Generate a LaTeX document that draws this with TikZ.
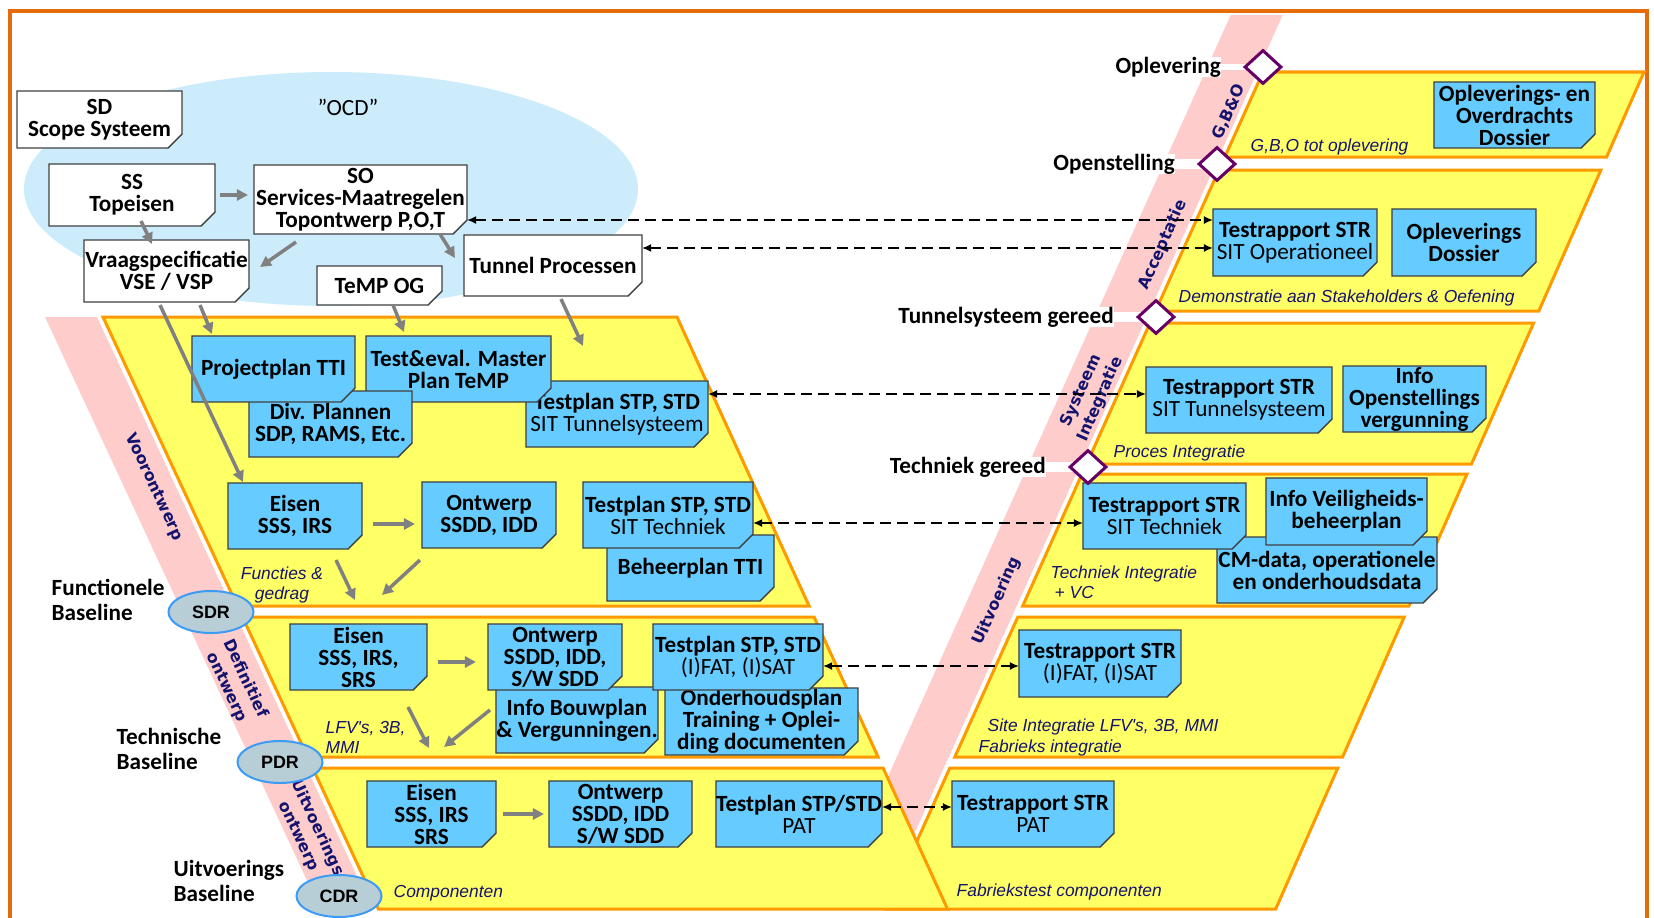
\documentclass[tikz,border=0pt]{standalone}
\usepackage{fontspec}
\setmainfont{Carlito}
\newfontfamily\bandfont{DejaVu Sans}
\newfontfamily\arialfont{Liberation Sans}
\usetikzlibrary{positioning,arrows.meta,shapes.geometric}
\definecolor{frameorange}{RGB}{228,108,10}
\definecolor{ocdblue}{RGB}{204,236,252}
\definecolor{bandpink}{RGB}{255,204,204}
\definecolor{layeryellow}{RGB}{255,255,102}
\definecolor{layerorange}{RGB}{255,153,0}
\definecolor{noteblue}{RGB}{102,204,255}
\definecolor{foldblue}{RGB}{84,168,214}
\definecolor{noteborder}{RGB}{64,64,64}
\definecolor{foldgray}{RGB}{191,191,191}
\definecolor{textnavy}{RGB}{20,20,110}
\definecolor{reviewfill}{RGB}{183,206,214}
\definecolor{reviewblue}{RGB}{61,155,245}
\definecolor{msviolet}{RGB}{102,0,102}
\definecolor{arrowgray}{RGB}{128,128,128}
\newcommand\notesize{\fontsize{6.6pt}{6.25pt}\selectfont}
\makeatletter
\pgfdeclareshape{foldnote}{
  \inheritsavedanchors[from=rectangle]
  \inheritanchorborder[from=rectangle]
  \inheritanchor[from=rectangle]{center}
  \inheritanchor[from=rectangle]{north}
  \inheritanchor[from=rectangle]{south}
  \inheritanchor[from=rectangle]{east}
  \inheritanchor[from=rectangle]{west}
  \inheritanchor[from=rectangle]{north east}
  \inheritanchor[from=rectangle]{north west}
  \inheritanchor[from=rectangle]{south east}
  \inheritanchor[from=rectangle]{south west}
  \backgroundpath{
    \southwest \pgf@xa=\pgf@x \pgf@ya=\pgf@y
    \northeast \pgf@xb=\pgf@x \pgf@yb=\pgf@y
    \pgf@xc=\pgf@xb \advance\pgf@xc by -0.14cm
    \pgf@yc=\pgf@ya \advance\pgf@yc by 0.14cm
    \pgfpathmoveto{\pgfqpoint{\pgf@xa}{\pgf@ya}}
    \pgfpathlineto{\pgfqpoint{\pgf@xa}{\pgf@yb}}
    \pgfpathlineto{\pgfqpoint{\pgf@xb}{\pgf@yb}}
    \pgfpathlineto{\pgfqpoint{\pgf@xb}{\pgf@yc}}
    \pgfpathlineto{\pgfqpoint{\pgf@xc}{\pgf@ya}}
    \pgfpathclose
  }
}
\makeatother
\begin{document}
\begin{tikzpicture}[
        x=0.01cm, y=-0.01cm,
        docnote/.style 2 args={foldnote, inner sep=0pt, outer sep=0pt, align=center,
            font=\notesize\bfseries, draw=noteborder, line width=0.012cm, fill=#1,
            append after command={\pgfextra{
                \draw[draw=noteborder, fill=#2, line width=0.01cm, line join=round,
                    shift={(\tikzlastnode.south -| \tikzlastnode.east)}]
                    (0,-14) -- (-14,0) -- (-12,-10) -- cycle;}}},
        bnote/.style={docnote={noteblue}{foldblue}},
        wnote/.style={docnote={white}{foldgray}},
        vlayer/.style={fill=layeryellow, draw=layerorange, line width=0.03cm},
        ilabel/.style={font=\arialfont\itshape\fontsize{4.95pt}{5.7pt}\selectfont, text=textnavy, inner sep=0pt},
        blabel/.style={font=\bandfont\bfseries\fontsize{4.55pt}{5.9pt}\selectfont, text=textnavy, inner sep=0pt, align=center},
        baselbl/.style={anchor=west, align=left, inner sep=0pt, font=\fontsize{6.6pt}{7.1pt}\selectfont\bfseries},
        mlabel/.style={fill=white, inner sep=0pt, font=\notesize\bfseries},
        mstone/.style={diamond, draw=msviolet, fill=white, line width=0.03cm, minimum width=0.37cm, minimum height=0.34cm, inner sep=0pt},
        review/.style={ellipse, draw=reviewblue, fill=reviewfill, line width=0.02cm, minimum width=0.85cm, minimum height=0.42cm, inner sep=0pt, font=\arialfont\bfseries\fontsize{5.1pt}{6pt}\selectfont},
        garrow/.style={draw=arrowgray, line width=0.035cm, -{Triangle[length=0.11cm, width=0.11cm]}},
        darrow/.style={line width=0.016cm, dash pattern=on 0.11cm off 0.06cm, {Latex[length=0.09cm, width=0.08cm]}-{Latex[length=0.09cm, width=0.08cm]}}
    ]
    \useasboundingbox (0,0) rectangle (1654,918);
    \draw[frameorange, line width=0.04cm] (10,935) -- (10,11) -- (1647,11) -- (1647,935);

    % OCD
    \fill[ocdblue] (331,189) ellipse [x radius=307, y radius=117];
    \node[font=\notesize] (ocd) at (348,107) {''OCD''};
    \node[wnote, minimum width=1.65cm, minimum height=0.57cm] (sd) at (99.5,119.5) {SD\\Scope Systeem};
    \node[wnote, minimum width=1.66cm, minimum height=0.62cm] (ss) at (132,195) {SS\\Topeisen};
    \node[wnote, minimum width=2.13cm, minimum height=0.69cm] (so) at (360.5,199.5) {SO\\Services-Maatregelen\\Topontwerp P,O,T};
    \node[wnote, minimum width=1.65cm, minimum height=0.62cm] (vraag) at (166.5,271) {Vraagspecificatie\\VSE / VSP};
    \node[wnote, minimum width=1.25cm, minimum height=0.39cm] (tempog) at (379.5,285.5) {TeMP OG};
    \node[wnote, minimum width=1.78cm, minimum height=0.61cm] (tunnel) at (553,265.5) {Tunnel Processen};

    % V bands and layers
    \fill[bandpink] (45,317) -- (97,317) -- (366.2,896) -- (314.2,896) -- cycle;
    \fill[bandpink] (1230.7,15) -- (1282.7,15) -- (906.9,850) -- (854.9,850) -- cycle;
    \draw[vlayer] (1263,72) -- (1644,72) -- (1606.6,157) -- (1224.8,157) -- cycle;
    \draw[vlayer] (1218.9,170) -- (1600.9,170) -- (1538.8,311) -- (1155.5,311) -- cycle;
    \draw[vlayer] (1150,323) -- (1533.6,323) -- (1471.5,464) -- (1086.6,464) -- cycle;
    \draw[vlayer] (1082,474) -- (1467,474) -- (1409,606) -- (1022.7,606) -- cycle;
    \draw[vlayer] (1017.8,617) -- (1404.2,617) -- (1342.6,757) -- (954.8,757) -- cycle;
    \draw[vlayer] (949.8,768) -- (1337.8,768) -- (1275.7,909) -- (886.4,909) -- cycle;
    \draw[vlayer] (103,317) -- (677,317) -- (809.1,606) -- (237.4,606) -- cycle;
    \draw[vlayer] (242.5,617) -- (814.1,617) -- (878.1,757) -- (307.6,757) -- cycle;
    \draw[vlayer] (312.7,768) -- (883.1,768) -- (947.5,909) -- (378.3,909) -- cycle;

    % left side
    \node[bnote, minimum width=1.82cm, minimum height=0.66cm] (tpsys) at (617,414) {Testplan STP, STD\\\mdseries SIT Tunnelsysteem};
    \node[bnote, minimum width=1.85cm, minimum height=0.66cm] (temp) at (458.5,369) {Test\&eval. Master\\Plan TeMP};
    \node[bnote, minimum width=1.63cm, minimum height=0.66cm] (divpl) at (330.5,424) {Div. Plannen\\SDP, RAMS, Etc.};
    \node[bnote, minimum width=1.63cm, minimum height=0.66cm] (pptti) at (273.5,369) {Projectplan TTI};
    \node[bnote, minimum width=1.67cm, minimum height=0.66cm] (beheer) at (690.5,568) {Beheerplan TTI};
    \node[bnote, minimum width=1.34cm, minimum height=0.66cm] (eisen1) at (295,516) {Eisen\\SSS, IRS};
    \node[bnote, minimum width=1.34cm, minimum height=0.66cm] (ontw1) at (489,515) {Ontwerp\\SSDD, IDD};
    \node[bnote, minimum width=1.70cm, minimum height=0.66cm] (tptech) at (668,515) {Testplan STP, STD\\\mdseries SIT Techniek};
    \node[bnote, minimum width=1.62cm, minimum height=0.66cm] (bouw) at (577,720) {Info Bouwplan\\\& Vergunningen.};
    \node[bnote, minimum width=1.93cm, minimum height=0.67cm] (onderh) at (761.5,721.5) {Onderhoudsplan\\Training + Oplei-\\ding documenten};
    \node[bnote, minimum width=1.37cm, minimum height=0.66cm] (eisen2) at (358.5,657) {Eisen\\SSS, IRS,\\SRS};
    \node[bnote, minimum width=1.34cm, minimum height=0.66cm] (ontw2) at (555,657) {Ontwerp\\SSDD, IDD,\\S/W SDD};
    \node[bnote, minimum width=1.70cm, minimum height=0.66cm] (tpfat) at (738,657) {Testplan STP, STD\\\mdseries (I)FAT, (I)SAT};
    \node[bnote, minimum width=1.29cm, minimum height=0.66cm] (eisen3) at (431.5,814) {Eisen\\SSS, IRS\\SRS};
    \node[bnote, minimum width=1.43cm, minimum height=0.66cm] (ontw3) at (620.5,814) {Ontwerp\\SSDD, IDD\\S/W SDD};
    \node[bnote, minimum width=1.66cm, minimum height=0.66cm] (tppat) at (799,814) {Testplan STP/STD\\\mdseries PAT};

    % right side
    \node[bnote, minimum width=1.61cm, minimum height=0.66cm] (ovdos) at (1514.5,115) {Opleverings- en\\Overdrachts\\Dossier};
    \node[bnote, minimum width=1.64cm, minimum height=0.67cm] (trop) at (1295,242.5) {Testrapport STR\\\mdseries SIT Operationeel};
    \node[bnote, minimum width=1.44cm, minimum height=0.67cm] (opldos) at (1464,242.5) {Opleverings\\Dossier};
    \node[bnote, minimum width=1.86cm, minimum height=0.66cm] (trsys) at (1239,400) {Testrapport STR\\\mdseries SIT Tunnelsysteem};
    \node[bnote, minimum width=1.43cm, minimum height=0.66cm] (infoopen) at (1414.5,399) {Info\\Openstellings\\vergunning};
    \node[bnote, minimum width=2.20cm, minimum height=0.66cm] (cmdata) at (1327,570) {CM-data, operationele\\en onderhoudsdata};
    \node[bnote, minimum width=1.63cm, minimum height=0.66cm] (trtech) at (1164.5,516) {Testrapport STR\\\mdseries SIT Techniek};
    \node[bnote, minimum width=1.61cm, minimum height=0.67cm] (infoveil) at (1346.5,511.5) {Info Veiligheids-\\beheerplan};
    \node[bnote, minimum width=1.62cm, minimum height=0.67cm] (trfat) at (1100,663.5) {Testrapport STR\\\mdseries (I)FAT, (I)SAT};
    \node[bnote, minimum width=1.62cm, minimum height=0.66cm] (trpat) at (1033,814) {Testrapport STR\\\mdseries PAT};

    % layer texts
    \node[ilabel, align=center] (fg) at (282,585) {Functies \&\\gedrag};
    \node[ilabel, align=left, anchor=west] (lfv) at (325,737.5) {LFV's, 3B,\\MMI};
    \node[ilabel, anchor=west] (comp) at (393,893) {Componenten};
    \node[ilabel, anchor=west] (gbo) at (1250,147) {G,B,O tot oplevering};
    \node[ilabel, anchor=west] (demo) at (1178,298) {Demonstratie aan Stakeholders \& Oefening};
    \node[ilabel, anchor=west] (proces) at (1113,453) {Proces Integratie};
    \node[ilabel, align=left, anchor=west] (techint) at (1050,582.5) {Techniek Integratie\\\hspace*{0.04cm}+ VC};
    \node[ilabel, align=left, anchor=west] (site) at (978,737.5) {\hspace*{0.09cm}Site Integratie LFV's, 3B, MMI\\Fabrieks integratie};
    \node[ilabel, anchor=west] (fabr) at (956,892) {Fabriekstest componenten};

    \node[blabel, rotate=-65] (voor) at (154,487) {Voorontwerp};
    \node[blabel, rotate=-65] (defin) at (236,683) {Definitief\\ontwerp};
    \node[blabel, rotate=-65] (uitvo) at (308,832) {Uitvoerings\\ontwerp};
    \node[blabel, rotate=66] (gbolbl) at (1229,112) {G,B\&O};
    \node[blabel, rotate=66] (accept) at (1163,245) {Acceptatie};
    \node[blabel, rotate=66] (sysint) at (1091,395) {Systeem\\Integratie};
    \node[blabel, rotate=66] (uitv) at (997,601) {Uitvoering};

    % reviews and baselines
    \node[review] (sdr) at (211,612) {SDR};
    \node[review] (pdr) at (280,762) {PDR};
    \node[review] (cdr) at (339,896) {CDR};
    \node[baselbl] (fbl) at (51,600) {Functionele\\Baseline};
    \node[baselbl] (tbl) at (116,748.5) {Technische\\Baseline};
    \node[baselbl] (ubl) at (173,880.5) {Uitvoerings\\Baseline};

    % milestones
    \coordinate (mOpl) at (1263,67);
    \coordinate (mOpen) at (1217,164);
    \coordinate (mTun) at (1156,317);
    \coordinate (mTech) at (1088,467);
    \node[mlabel, left=0.415cm of mOpl] (lOpl) {Oplevering};
    \node[mlabel, left=0.415cm of mOpen] (lOpen) {Openstelling};
    \node[mlabel, left=0.415cm of mTun] (lTun) {Tunnelsysteem gereed};
    \node[mlabel, left=0.415cm of mTech] (lTech) {Techniek gereed};
    \draw[white, line width=0.05cm] (lOpl.east) -- (mOpl);
    \draw[white, line width=0.1cm] (lOpen.east) -- (mOpen);
    \draw[white, line width=0.1cm] (lTun.east) -- (mTun);
    \draw[white, line width=0.1cm] (lTech.east) -- (mTech);
    \node[mstone] (dOpl) at (mOpl) {};
    \node[mstone] (dOpen) at (mOpen) {};
    \node[mstone] (dTun) at (mTun) {};
    \node[mstone] (dTech) at (mTech) {};

    % flow
    \coordinate (fgA) at (355,600);
    \coordinate (fgB) at (382,595);
    \coordinate (lfA) at (429,748);
    \coordinate (lfB) at (444,747);
    \draw[garrow, shorten >=0.06cm] ([xshift=0.05cm]ss.east) coordinate (a1) -- (a1 -| so.west);
    \draw[garrow] ([xshift=0.09cm, yshift=0.05cm]ss.south) -- ([xshift=-0.145cm, yshift=-0.04cm]vraag.north);
    \draw[garrow] ([xshift=-0.645cm, yshift=-0.08cm]so.south) -- ([xshift=0.11cm, yshift=0.04cm]vraag.east);
    \draw[garrow] ([xshift=0.795cm]so.south) -- ([xshift=-0.09cm, yshift=0.075cm]tunnel.west);
    \draw[garrow] ([xshift=0.335cm, yshift=-0.03cm]vraag.south) -- ([xshift=-0.615cm, yshift=0.02cm]pptti.north);
    \draw[garrow] ([xshift=-0.065cm, yshift=-0.03cm]vraag.south) -- ([xshift=-0.52cm, yshift=0.01cm]eisen1.north);
    \draw[garrow] ([xshift=0.135cm]tempog.south) -- ([xshift=-0.545cm, yshift=0.04cm]temp.north);
    \draw[garrow] ([xshift=0.08cm, yshift=-0.03cm]tunnel.south) -- ([xshift=-0.34cm, yshift=0.35cm]tpsys.north);
    \draw[garrow, shorten >=0.07cm] ([xshift=0.11cm, yshift=-0.08cm]eisen1.east) coordinate (a9) -- (a9 -| ontw1.west);
    \draw[garrow] ([xshift=0.41cm, yshift=-0.11cm]eisen1.south) -- (fgA);
    \draw[garrow] ([xshift=-0.69cm, yshift=-0.12cm]ontw1.south) -- (fgB);
    \draw[garrow, shorten >=0.12cm] ([xshift=0.11cm, yshift=-0.05cm]eisen2.east) coordinate (a12) -- (a12 -| ontw2.west);
    \draw[garrow] ([xshift=0.495cm, yshift=-0.17cm]eisen2.south) -- (lfA);
    \draw[garrow] ([xshift=-0.06cm, yshift=0.10cm]bouw.west) -- (lfB);
    \draw[garrow, shorten >=0.05cm] ([xshift=0.07cm]eisen3.east) coordinate (a15) -- (a15 -| ontw3.west);

    % test links
    \draw[darrow] ([yshift=-0.205cm]so.east) coordinate (d1) -- (d1 -| trop.west);
    \draw[darrow] ([yshift=0.175cm]tunnel.east) coordinate (d2) -- (d2 -| trop.west);
    \draw[darrow] ([yshift=0.2cm]tpsys.east) coordinate (d3) -- (d3 -| trsys.west);
    \draw[darrow] ([yshift=-0.08cm]tptech.east) coordinate (d4) -- (d4 -| trtech.west);
    \draw[darrow] ([yshift=-0.09cm]tpfat.east) coordinate (d5) -- (d5 -| trfat.west);
    \draw[darrow] ([yshift=0.07cm]tppat.east) coordinate (d6) -- (d6 -| trpat.west);
\end{tikzpicture}
\end{document}
